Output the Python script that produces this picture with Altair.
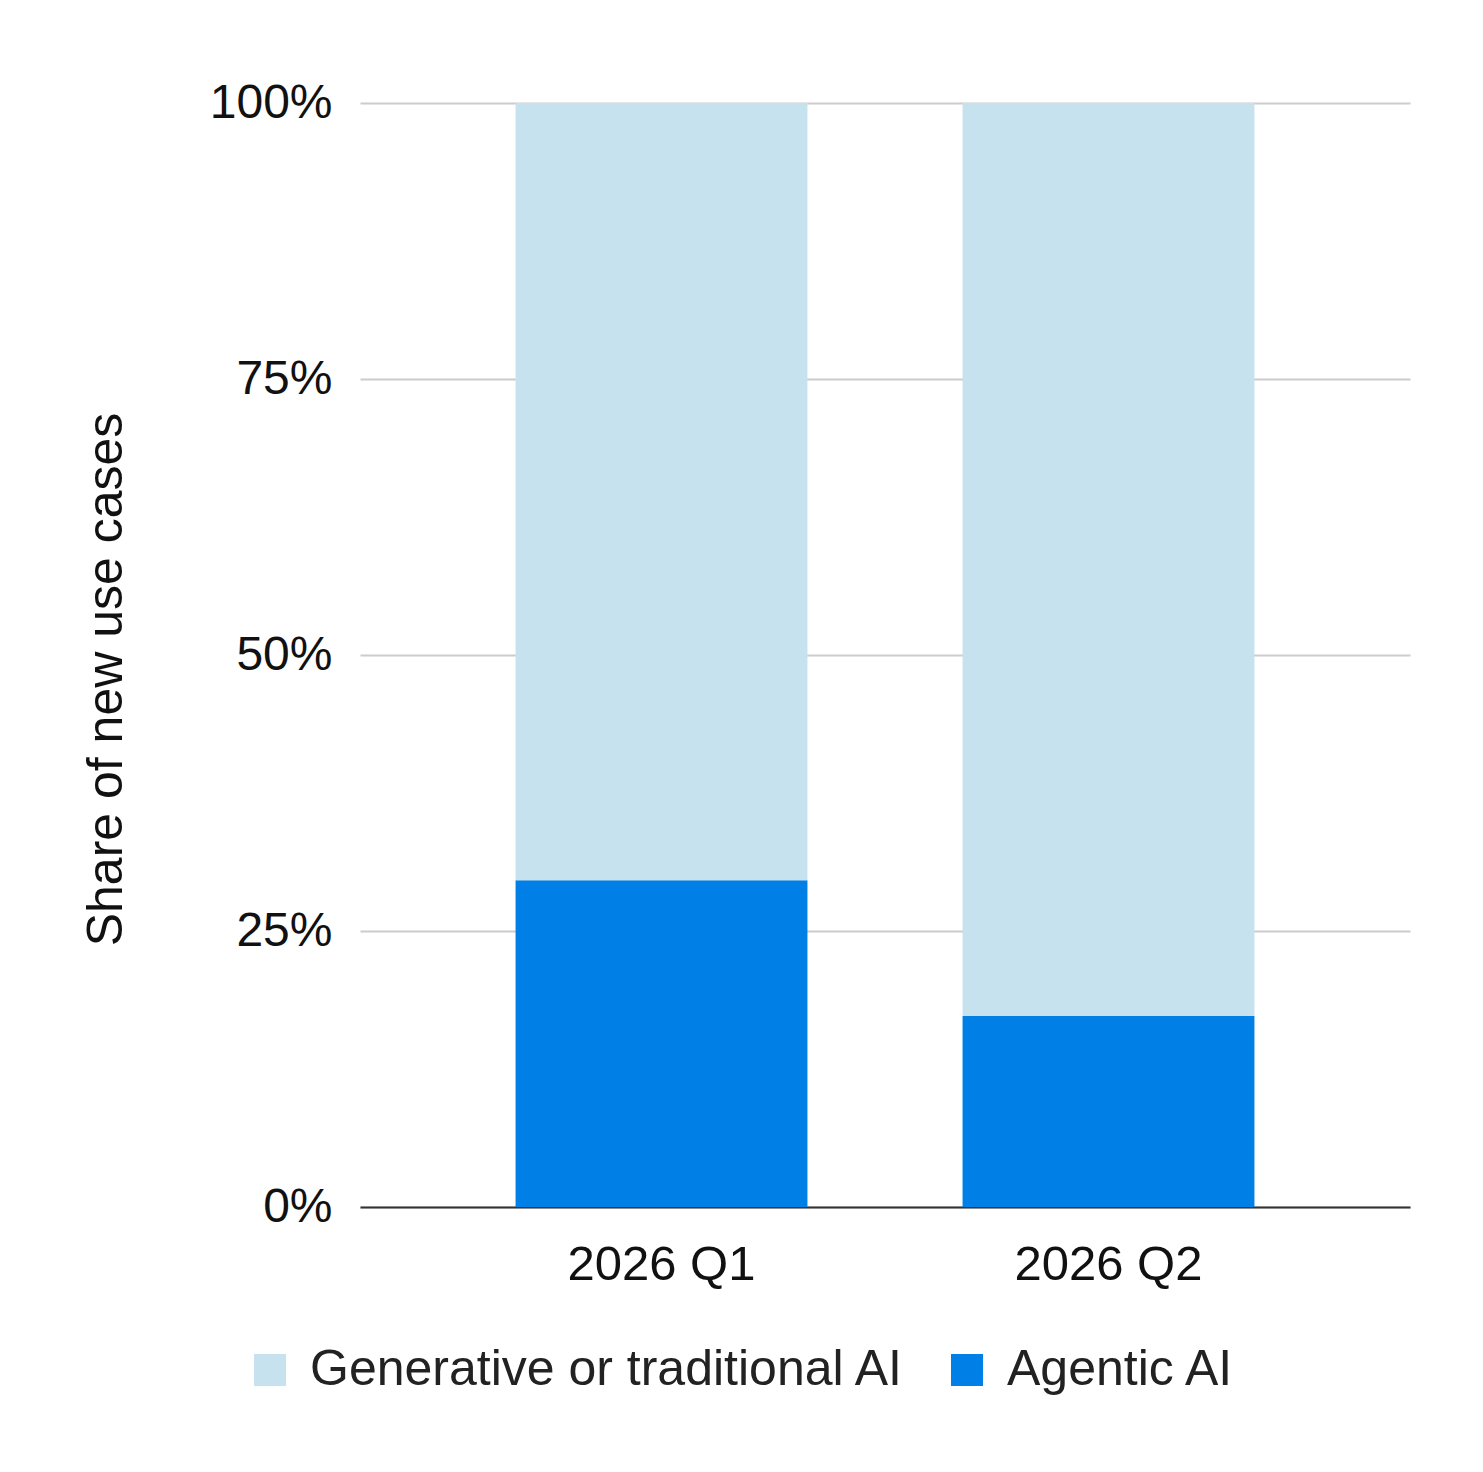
import altair as alt
import pandas as pd

quarters = ["2026 Q1", "2026 Q2"]
agentic = [0.296, 0.173]
generative = [0.704, 0.827]
series = ["Generative or traditional AI", "Agentic AI"]
colors = ["#C6E2EE", "#0080E6"]

rows = []
for i, q in enumerate(quarters):
    rows.append({"quarter": q, "type": "Agentic AI", "share": agentic[i], "ord": 0})
    rows.append({"quarter": q, "type": "Generative or traditional AI", "share": generative[i], "ord": 1})
df = pd.DataFrame(rows)

FONT = "Liberation Sans"

chart = alt.Chart(df).mark_bar(strokeWidth=0).encode(
    x=alt.X("quarter:N", sort=quarters, title=None,
            scale=alt.Scale(paddingInner=0.347, paddingOuter=0.348),
            axis=alt.Axis(labelAngle=0, labelFontSize=49, labelFont=FONT, labelColor="#111",
                          labelLimit=1000, ticks=False, labelPadding=33,
                          domainColor="#333", domainWidth=2)),
    y=alt.Y("share:Q", stack="zero", title="Share of new use cases",
            scale=alt.Scale(domain=[0, 1], nice=False),
            axis=alt.Axis(values=[0, 0.25, 0.5, 0.75, 1], format=".0%", labelFontSize=48,
                          labelFont=FONT, labelColor="#111", ticks=False, domain=False,
                          labelPadding=28, gridColor="#CCCCCC", gridWidth=2,
                          titleFont=FONT, titleFontSize=50, titleFontWeight="normal",
                          titleColor="#111", titleAngle=270, titleX=-239, titleY=576,
                          titleAlign="center", titleBaseline="alphabetic")),
    color=alt.Color("type:N", scale=alt.Scale(domain=series, range=colors), title=None,
                    legend=alt.Legend(orient="none", direction="horizontal", legendX=-115,
                                      legendY=1242, symbolType="square", symbolSize=1024,
                                      symbolStrokeWidth=0, labelFontSize=50, labelFont=FONT,
                                      labelColor="#222", labelOffset=15, columnPadding=37,
                                      padding=0, labelLimit=1000)),
    order=alt.Order("ord:Q"),
).properties(
    width=1050, height=1104,
    background="white",
    autosize=alt.AutoSizeParams(type="none"),
    padding={"left": 352, "top": 95, "right": 60, "bottom": 240},
).configure_view(stroke=None)

chart.save("out.html", embed_options={"renderer": "svg", "actions": False})
